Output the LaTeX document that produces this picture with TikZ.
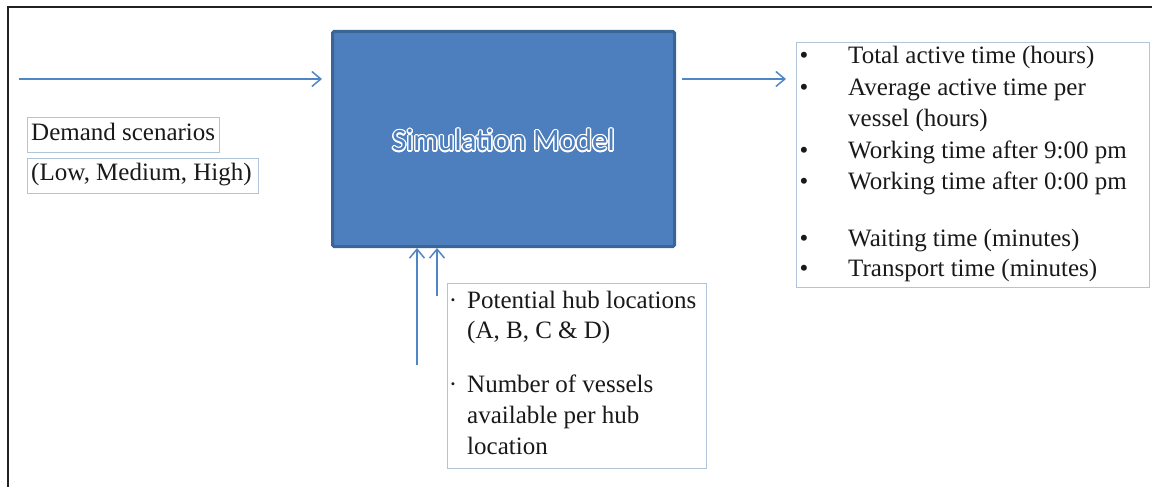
\documentclass[tikz,border=0pt]{standalone}
\usepackage{fontspec}
\setmainfont{Liberation Serif}
\newfontfamily\calib{Carlito}
\usepackage{contour}
\contourlength{1.3pt}
\usetikzlibrary{arrows.meta}
\definecolor{arrowblue}{HTML}{4F86C6}
\definecolor{simfill}{HTML}{4D7FBE}
\definecolor{simborder}{HTML}{3A6596}
\definecolor{boxline}{HTML}{B2C5D8}
\definecolor{frameline}{HTML}{222222}
\begin{document}
\begin{tikzpicture}[x=1pt,y=-1pt,
  conn/.style={draw=arrowblue, line width=1.5pt, -{Straight Barb[length=9pt,width=15pt,line width=1.5pt]}},
  txtbox/.style={draw=boxline, line width=0.7pt, inner sep=0pt, font=\fontsize{25}{30}\selectfont},
  lbl/.style={inner sep=0pt, anchor=base west, font=\fontsize{25}{30}\selectfont, text=black!90},
  bul/.style={inner sep=0pt, anchor=base, font=\fontsize{25}{30}\selectfont, text=black!90},
  simbox/.style={draw=simborder, fill=simfill, line width=3pt, rounded corners=1.5pt, inner sep=0pt}
]
\useasboundingbox (0,0) rectangle (1152,487);
% outer frame (top and left only)
\draw[frameline, line width=1.6pt] (8,487) -- (8,7) -- (1152,7);

% simulation model block
\node[simbox, minimum width=342pt, minimum height=215pt] (sim) at (503.5,139) {};
\node[inner sep=0pt, font=\calib\fontsize{31}{36}\selectfont] (simtxt) at (503.5,141) {\contour{white}{\textcolor{simfill}{Simulation Model}}};

% demand boxes
\node[txtbox, anchor=north west, minimum width=192pt, minimum height=35pt] (dem1) at (27,117) {};
\node[lbl] (dem1t) at (31,140) {Demand scenarios};
\node[txtbox, anchor=north west, minimum width=231pt, minimum height=35pt] (dem2) at (27,158) {};
\node[lbl] (dem2t) at (31,180) {(Low, Medium, High)};

% output box
\node[txtbox, anchor=north west, minimum width=353pt, minimum height=245pt] (outbox) at (796,42) {};
\node[bul] (b1) at (804,63.5) {•};
\node[lbl] (o1) at (848,63.5) {Total active time (hours)};
\node[bul] (b2) at (804,95.5) {•};
\node[lbl] (o2) at (848,95.5) {Average active time per};
\node[lbl] (o3) at (848,126.5) {vessel (hours)};
\node[bul] (b4) at (804,158) {•};
\node[lbl] (o4) at (848,158) {Working time after 9:00 pm};
\node[bul] (b5) at (804,189) {•};
\node[lbl] (o5) at (848,189) {Working time after 0:00 pm};
\node[bul] (b6) at (804,246.5) {•};
\node[lbl] (o6) at (848,246.5) {Waiting time (minutes)};
\node[bul] (b7) at (804,276) {•};
\node[lbl] (o7) at (848,276) {Transport time (minutes)};

% hub box
\node[txtbox, anchor=north west, minimum width=259pt, minimum height=185pt] (hub) at (447,283) {};
\node[bul] (hb1) at (453,308) {·};
\node[lbl] (h1t) at (467,308) {Potential hub locations};
\node[lbl] (h2t) at (467,338) {(A, B, C \& D)};
\node[bul] (hb2) at (453,392) {·};
\node[lbl] (h3t) at (467,392) {Number of vessels};
\node[lbl] (h4t) at (467,423) {available per hub};
\node[lbl] (h5t) at (467,454) {location};

% connectors
\coordinate (inL) at (19,79);
\coordinate (up1) at (417,365);
\coordinate (up2) at (437,296);
\draw[conn, shorten >=9pt] (inL) -- (inL -| sim.west);
\draw[conn, shorten <=6pt, shorten >=10pt] (sim.east |- inL) -- (outbox.west |- inL);
\draw[conn] (up1) -- (up1 |- sim.south);
\draw[conn] (up2) -- (up2 |- sim.south);
\end{tikzpicture}
\end{document}
